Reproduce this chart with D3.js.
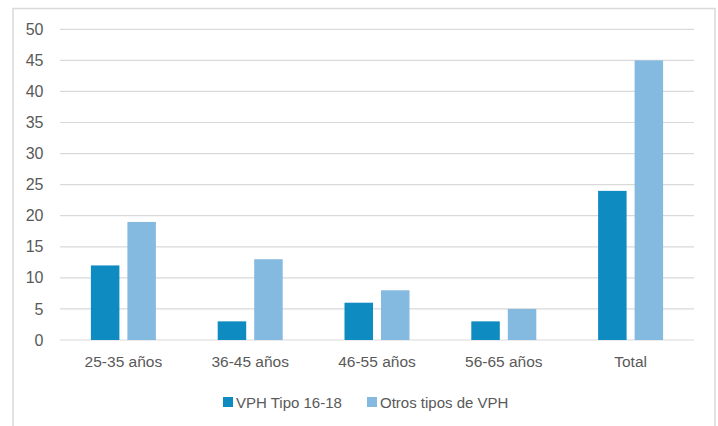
<!DOCTYPE html>
<html><head><meta charset="utf-8">
<script src="https://cdn.jsdelivr.net/npm/d3@7"></script>
<style>body{margin:0;background:#fff}svg{display:block}text{font-family:"Liberation Sans",Arial,sans-serif;fill:#595959}</style>
</head><body>
<svg id="c" width="718" height="426"></svg>
<script>
const categories = ["25-35 años","36-45 años","46-55 años","56-65 años","Total"];
const seriesNames = ["VPH Tipo 16-18","Otros tipos de VPH"];
const vph1618 = [12,3,6,3,24];
const otros = [19,13,8,5,45];
const yTicks = [0,5,10,15,20,25,30,35,40,45,50];
const colors = ["#0E8BC0","#85BAE0"];

const svg = d3.select("#c");
svg.append("rect").attr("x",13).attr("y",8.5).attr("width",702).attr("height",430)
  .attr("fill","#fff").attr("stroke","#d9d9d9").attr("stroke-width",1.5);

const L=60,R=694,T=29.3,B=340;
const x = d3.scaleBand().domain(categories).range([L,R]);
const y = d3.scaleLinear().domain([0,50]).range([B,T]);

const g = svg.append("g");
g.selectAll("line.grid").data(yTicks).join("line")
  .attr("x1",L).attr("x2",R).attr("y1",d=>y(d)).attr("y2",d=>y(d))
  .attr("stroke","#d9d9d9").attr("stroke-width",1.2);

const yAxis = d3.axisLeft(y).tickValues(yTicks).tickSize(0).tickPadding(0);
const ya = svg.append("g").attr("transform","translate(43.5,0)").call(yAxis);
ya.select(".domain").remove();
ya.selectAll("text").attr("font-size",16).style("fill","#595959").attr("font-family","Liberation Sans, Arial, sans-serif");

const xAxis = d3.axisBottom(x).tickSize(0).tickPadding(0);
const xa = svg.append("g").attr("transform",`translate(0,${B+16})`).call(xAxis);
xa.select(".domain").remove();
xa.selectAll("text").attr("font-size",15.5).style("fill","#595959").attr("font-family","Liberation Sans, Arial, sans-serif");

const bw = 28.5, gap = 8;
const data = [vph1618, otros];
data.forEach((vals,si)=>{
  g.selectAll("rect.s"+si).data(vals).join("rect")
    .attr("x",(d,i)=>x(categories[i])+x.bandwidth()/2 + (si===0 ? -gap/2-bw : gap/2))
    .attr("y",d=>y(d)).attr("width",bw).attr("height",d=>B-y(d))
    .attr("fill",colors[si]);
});

const legend = [{x:223,name:seriesNames[0],c:colors[0]},{x:367,name:seriesNames[1],c:colors[1]}];
legend.forEach(l=>{
  svg.append("rect").attr("x",l.x).attr("y",397).attr("width",10).attr("height",10).attr("fill",l.c);
  svg.append("text").attr("x",l.x+13).attr("y",407.5).attr("font-size",15).text(l.name);
});
</script>
</body></html>
